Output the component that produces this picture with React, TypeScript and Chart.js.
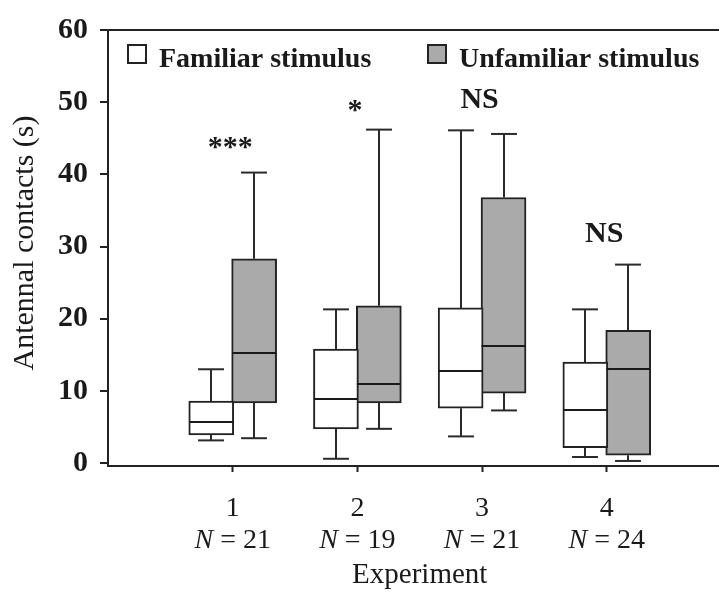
import React, { useEffect, useRef } from "react";
import { Chart, registerables } from "chart.js";

Chart.register(...registerables);

const categories = [1, 2, 3, 4];
const nLabels = ["21", "19", "21", "24"];
const yTicks = [0, 10, 20, 30, 40, 50, 60];

const famMin = [3.15, 0.6, 3.7, 0.85];
const famQ1 = [3.9, 4.75, 7.6, 2.15];
const famMed = [5.75, 8.85, 12.75, 7.3];
const famQ3 = [8.6, 15.8, 21.5, 14.0];
const famMax = [13.0, 21.3, 46.1, 21.3];

const unfMin = [3.45, 4.75, 7.3, 0.3];
const unfQ1 = [8.35, 8.35, 9.7, 1.1];
const unfMed = [15.3, 10.95, 16.2, 13.0];
const unfQ3 = [28.3, 21.8, 36.8, 18.4];
const unfMax = [40.25, 46.2, 45.6, 27.5];

const sigLabels = ["***", "*", "NS", "NS"];
const sigY = [42.6, 47.7, 49.2, 30.6];

const FONT = "'Liberation Serif', 'Times New Roman', serif";
const INK = "#1a1a1a";
const GRAY = "#a9aaa9";
const OFF = 0.172; // half box offset in x units
const CAP = 0.104; // half cap width in x units

const boxPlugin = {
  id: "boxExtras",
  beforeDatasetsDraw(chart: any) {
    const { ctx } = chart;
    const x = chart.scales.x;
    const y = chart.scales.y;
    ctx.save();
    ctx.strokeStyle = "#2a2a2a";
    ctx.lineWidth = 2;
    const line = (x1: number, y1: number, x2: number, y2: number) => {
      ctx.beginPath();
      ctx.moveTo(x1, y1);
      ctx.lineTo(x2, y2);
      ctx.stroke();
    };
    const whisk = (cx: number, lo: number, q1: number, q3: number, hi: number) => {
      const px = Math.round(x.getPixelForValue(cx));
      const cap = x.getPixelForValue(cx + CAP) - x.getPixelForValue(cx);
      line(px, y.getPixelForValue(q3), px, y.getPixelForValue(hi));
      line(px - cap, y.getPixelForValue(hi), px + cap, y.getPixelForValue(hi));
      line(px, y.getPixelForValue(q1), px, y.getPixelForValue(lo));
      line(px - cap, y.getPixelForValue(lo), px + cap, y.getPixelForValue(lo));
    };
    categories.forEach((c, i) => {
      whisk(c - OFF, famMin[i], famQ1[i], famQ3[i], famMax[i]);
      whisk(c + OFF, unfMin[i], unfQ1[i], unfQ3[i], unfMax[i]);
    });
    ctx.restore();
  },
  afterDatasetsDraw(chart: any) {
    const { ctx } = chart;
    const x = chart.scales.x;
    const y = chart.scales.y;
    ctx.save();
    ctx.strokeStyle = INK;
    ctx.lineWidth = 2;
    const med = (cx: number, v: number) => {
      const px = x.getPixelForValue(cx);
      const py = Math.round(y.getPixelForValue(v));
      ctx.beginPath();
      ctx.moveTo(px - 22, py);
      ctx.lineTo(px + 22, py);
      ctx.stroke();
    };
    categories.forEach((c, i) => {
      med(c - OFF, famMed[i]);
      med(c + OFF, unfMed[i]);
    });
    ctx.restore();
  },
  afterDraw(chart: any) {
    const { ctx, chartArea } = chart;
    const x = chart.scales.x;
    const y = chart.scales.y;
    ctx.save();
    ctx.fillStyle = INK;
    ctx.textBaseline = "alphabetic";

    // significance labels
    ctx.font = `bold 30px ${FONT}`;
    ctx.textAlign = "center";
    categories.forEach((c, i) => {
      ctx.fillText(sigLabels[i], x.getPixelForValue(c - 0.02), y.getPixelForValue(sigY[i]));
    });

    // x labels
    categories.forEach((c, i) => {
      const px = x.getPixelForValue(c);
      ctx.textAlign = "center";
      ctx.font = `28px ${FONT}`;
      ctx.fillText(String(c), px, chartArea.bottom + 50);
      ctx.font = `italic 28px ${FONT}`;
      const wN = ctx.measureText("N").width;
      ctx.font = `28px ${FONT}`;
      const rest = " = " + nLabels[i];
      const wR = ctx.measureText(rest).width;
      const start = px - (wN + wR) / 2;
      ctx.textAlign = "left";
      ctx.font = `italic 28px ${FONT}`;
      ctx.fillText("N", start, chartArea.bottom + 82);
      ctx.font = `28px ${FONT}`;
      ctx.fillText(rest, start + wN, chartArea.bottom + 82);
    });
    ctx.textAlign = "center";
    ctx.font = `29px ${FONT}`;
    ctx.fillText("Experiment", x.getPixelForValue(2.5), chartArea.bottom + 117);

    // y title
    ctx.save();
    ctx.translate(25, (chartArea.top + chartArea.bottom) / 2 - 5);
    ctx.rotate(-Math.PI / 2);
    ctx.textAlign = "center";
    ctx.textBaseline = "middle";
    ctx.font = `30px ${FONT}`;
    ctx.fillText("Antennal contacts (s)", 0, 0);
    ctx.restore();

    // legend
    const items = [
      { label: "Familiar stimulus", fill: "#ffffff", x: chartArea.left + 20 },
      { label: "Unfamiliar stimulus", fill: GRAY, x: chartArea.left + 320 },
    ];
    items.forEach((it) => {
      ctx.fillStyle = it.fill;
      ctx.fillRect(it.x, chartArea.top + 15, 18, 18);
      ctx.strokeStyle = "#222";
      ctx.lineWidth = 2;
      ctx.strokeRect(it.x, chartArea.top + 15, 18, 18);
      ctx.fillStyle = INK;
      ctx.textAlign = "left";
      ctx.font = `bold 28px ${FONT}`;
      ctx.fillText(it.label, it.x + 31, chartArea.top + 37);
    });
    ctx.restore();
  },
};

export default function App() {
  const ref = useRef<HTMLCanvasElement | null>(null);
  useEffect(() => {
    document.body.style.margin = "0";
    const cv = ref.current;
    if (!cv) return;
    const chart = new Chart(cv, {
      type: "bar",
      data: {
        datasets: [
          {
            label: "Familiar stimulus",
            data: categories.map((c, i) => ({ x: c - OFF, y: [famQ1[i], famQ3[i]] })) as any,
            backgroundColor: "#ffffff",
            borderColor: "#222",
            borderWidth: 2,
            borderSkipped: false,
            barThickness: 45,
            grouped: false,
          },
          {
            label: "Unfamiliar stimulus",
            data: categories.map((c, i) => ({ x: c + OFF, y: [unfQ1[i], unfQ3[i]] })) as any,
            backgroundColor: GRAY,
            borderColor: "#222",
            borderWidth: 2,
            borderSkipped: false,
            barThickness: 45,
            grouped: false,
          },
        ],
      },
      options: {
        animation: false,
        responsive: true,
        maintainAspectRatio: false,
        layout: { padding: { top: 18, right: 0, left: 0, bottom: 0 } },
        plugins: { legend: { display: false }, tooltip: { enabled: false } },
        scales: {
          x: {
            type: "linear",
            min: 0,
            max: 4.9,
            offset: false,
            afterBuildTicks: (s: any) => {
              s.ticks = categories.map((v) => ({ value: v }));
            },
            afterFit: (s: any) => {
              s.height = 126;
            },
            ticks: { display: false },
            grid: {
              offset: false,
              drawOnChartArea: false,
              drawTicks: true,
              tickLength: 6,
              tickWidth: 2,
              tickColor: "#222",
            },
            border: { display: true, color: "#222", width: 2 },
          },
          y: {
            type: "linear",
            min: -0.4,
            max: 60,
            afterBuildTicks: (s: any) => {
              s.ticks = yTicks.map((v) => ({ value: v }));
            },
            afterFit: (s: any) => {
              s.width = 108;
            },
            ticks: {
              color: INK,
              padding: 12,
              font: { family: FONT, size: 30, weight: "bold" },
            },
            grid: {
              drawTicks: true,
              tickLength: 8,
              tickWidth: 2,
              tickColor: "#222",
              lineWidth: 2,
              color: (ctx: any) => (ctx.tick && ctx.tick.value === 60 ? "#222" : "rgba(0,0,0,0)"),
            },
            border: { display: true, color: "#222", width: 2 },
          },
        },
      },
      plugins: [boxPlugin],
    });
    return () => chart.destroy();
  }, []);
  return (
    <div style={{ width: 719, height: 592, position: "relative" }}>
      <canvas ref={ref} />
    </div>
  );
}
